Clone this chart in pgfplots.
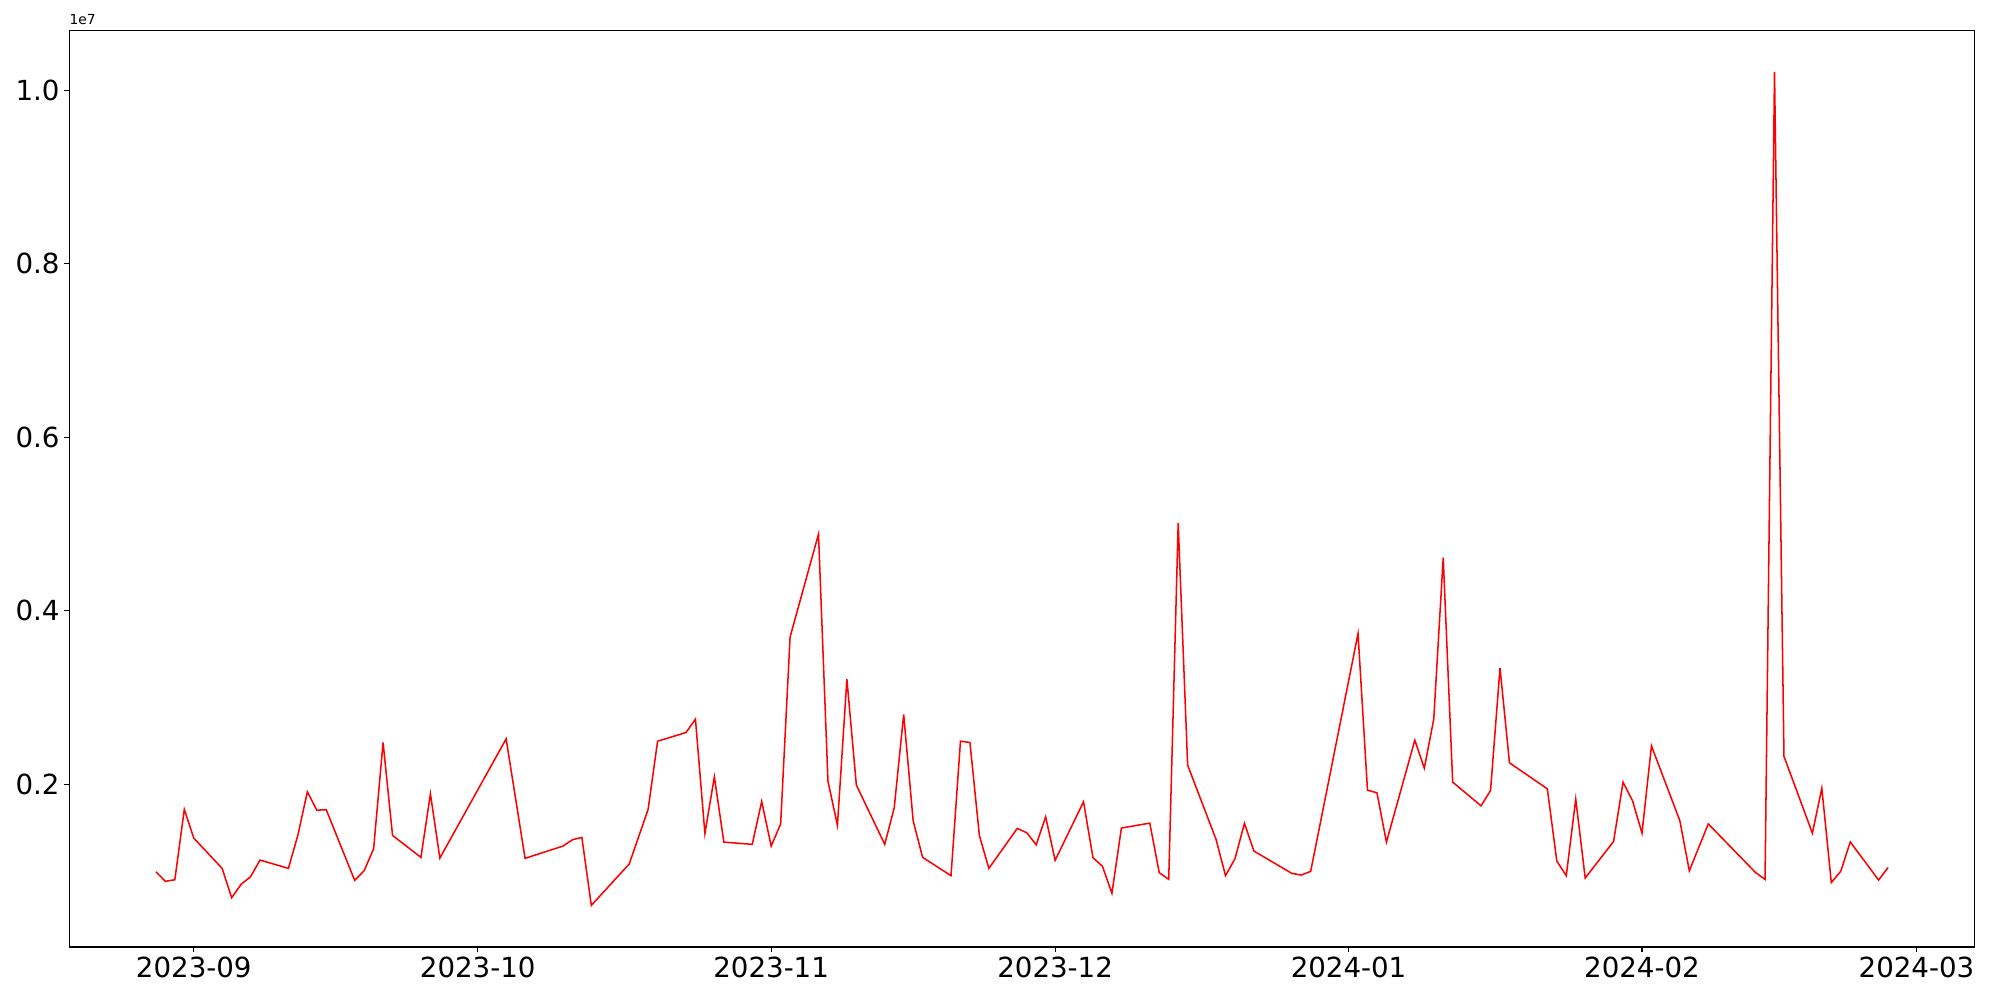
\documentclass[border=0pt]{standalone}
\usepackage{fontspec}
\setmainfont{DejaVu Sans}
\usepackage{pgfplots}
\pgfplotsset{compat=1.18}
\begin{document}
\begin{tikzpicture}
\path[use as bounding box] (0,0) rectangle (20in,10in);
\begin{axis}[
  at={(0.693in,0.53in)}, anchor=south west,
  scale only axis, width=19.054in, height=9.167in,
  xmin=-13.15, xmax=188.15, ymin=0.124, ymax=10.69,
  axis line style={line width=0.8pt},
  tick style={line width=0.8pt, black},
  tick align=outside, major tick length=3.5pt,
  xtick pos=bottom, ytick pos=left,
  xtick={0,30,61,91,122,153,182},
  xticklabels={2023-09,2023-10,2023-11,2023-12,2024-01,2024-02,2024-03},
  ytick={2,4,6,8,10},
  yticklabels={0.2,0.4,0.6,0.8,1.0},
  ticklabel style={font=\fontsize{20}{24}\selectfont},
  /pgf/number format/assume math mode=true,
  clip=false,
]
\addplot[red, line width=1.1pt, line join=miter] coordinates {
(-4,0.991)(-3,0.881)(-2,0.899)(-1,1.710)(0,1.379)(3,1.030)(4,0.692)(5,0.846)(6,0.934)(7,1.126)
(10,1.030)(11,1.414)(12,1.912)(13,1.702)(14,1.705)(17,0.892)(18,1.003)(19,1.256)(20,2.481)(21,1.410)
(24,1.157)(25,1.889)(26,1.149)(33,2.523)(35,1.146)(39,1.287)(40,1.360)(41,1.387)(42,0.604)(46,1.080)
(48,1.710)(49,2.496)(52,2.596)(53,2.750)(54,1.433)(55,2.085)(56,1.333)(59,1.307)(60,1.802)(61,1.287)
(62,1.541)(63,3.697)(66,4.883)(67,2.036)(68,1.526)(69,3.210)(70,1.990)(73,1.307)(74,1.728)(75,2.804)
(76,1.579)(77,1.157)(80,0.946)(81,2.496)(82,2.481)(83,1.406)(84,1.030)(87,1.491)(88,1.441)(89,1.302)
(90,1.625)(91,1.123)(94,1.798)(95,1.153)(96,1.054)(97,0.743)(98,1.495)(101,1.552)(102,0.980)(103,0.904)
(104,5.01)(105,2.220)(108,1.364)(109,0.946)(110,1.141)(111,1.549)(112,1.230)(116,0.973)(117,0.953)(118,0.996)
(123,3.736)(124,1.932)(125,1.901)(126,1.333)(129,2.508)(130,2.185)(131,2.750)(132,4.611)(133,2.024)(136,1.751)
(137,1.928)(138,3.340)(139,2.247)(143,1.947)(144,1.115)(145,0.946)(146,1.828)(147,0.919)(150,1.341)(151,2.024)
(152,1.809)(153,1.437)(154,2.442)(157,1.579)(158,1.002)(160,1.543)(165,0.982)(166,0.903)(167,10.21)(168,2.321)
(171,1.436)(172,1.954)(173,0.867)(174,0.997)(175,1.335)(178,0.896)(179,1.040)
};
\node[anchor=base west, inner sep=0pt, font=\fontsize{10}{12}\selectfont] at (rel axis cs:0,1) [yshift=4.5pt] {1e7};
\end{axis}
\end{tikzpicture}
\end{document}
